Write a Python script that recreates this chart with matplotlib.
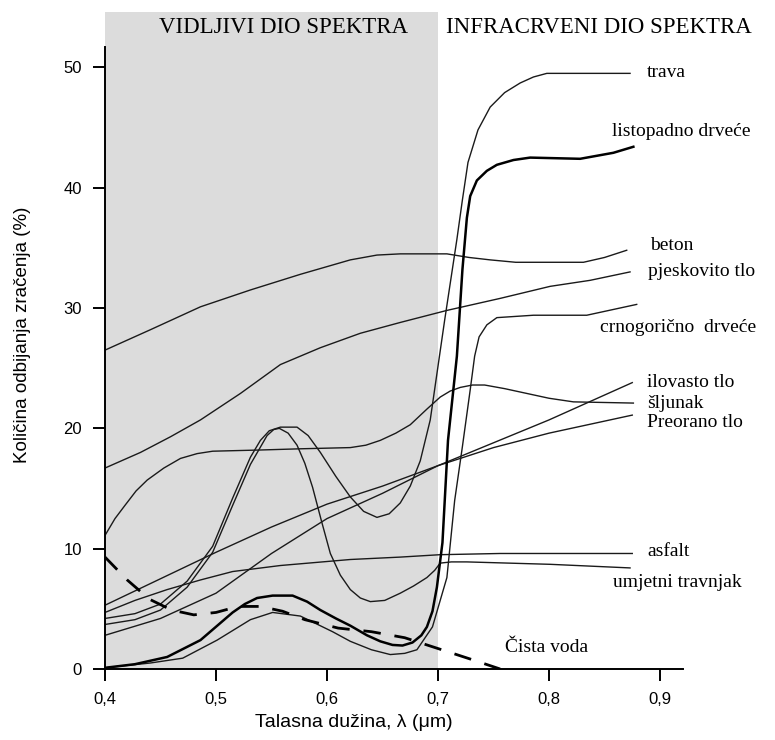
import matplotlib
matplotlib.use("Agg")
import matplotlib.pyplot as plt

# ============ PODACI (očitano sa slike) ============
# valna duljina u um, odbijanje u %
beton_x = [0.400, 0.441, 0.486, 0.531, 0.576, 0.621, 0.645, 0.666, 0.690, 0.708, 0.728, 0.747, 0.770, 0.792, 0.831, 0.850, 0.870]
beton_y = [26.5, 28.2, 30.1, 31.5, 32.8, 34.0, 34.4, 34.5, 34.5, 34.5, 34.2, 34.0, 33.8, 33.8, 33.8, 34.2, 34.8]

pijesak_x = [0.400, 0.432, 0.459, 0.486, 0.522, 0.558, 0.594, 0.630, 0.666, 0.708, 0.756, 0.801, 0.837, 0.873]
pijesak_y = [16.7, 18.0, 19.3, 20.7, 22.9, 25.3, 26.7, 27.9, 28.8, 29.8, 30.8, 31.8, 32.3, 33.0]

sljunak_x = [0.400, 0.409, 0.418, 0.428, 0.438, 0.453, 0.468, 0.483, 0.497, 0.540, 0.576, 0.621, 0.635, 0.648,
             0.662, 0.675, 0.690, 0.702, 0.711, 0.720, 0.731, 0.742, 0.760, 0.780, 0.800, 0.822, 0.876]
sljunak_y = [11.1, 12.5, 13.6, 14.8, 15.7, 16.7, 17.5, 17.9, 18.1, 18.2, 18.3, 18.4, 18.6, 19.0,
             19.6, 20.3, 21.6, 22.6, 23.1, 23.4, 23.6, 23.6, 23.3, 22.9, 22.5, 22.2, 22.1]

trava_x = [0.400, 0.427, 0.450, 0.474, 0.497, 0.515, 0.531, 0.540, 0.548, 0.558, 0.573, 0.583, 0.594, 0.608,
           0.621, 0.633, 0.645, 0.656, 0.666, 0.675, 0.684, 0.693, 0.706, 0.717, 0.722, 0.727, 0.736,
           0.747, 0.760, 0.774, 0.786, 0.798, 0.873]
trava_y = [4.2, 4.6, 5.4, 7.3, 10.2, 14.2, 17.6, 19.0, 19.8, 20.1, 20.1, 19.4, 18.0, 16.0,
           14.3, 13.1, 12.6, 12.9, 13.8, 15.2, 17.3, 20.7, 29.0, 35.7, 39.0, 42.1, 44.8,
           46.7, 47.9, 48.7, 49.2, 49.5, 49.5]

umjetni_x = [0.400, 0.427, 0.450, 0.474, 0.497, 0.515, 0.531, 0.546, 0.552, 0.557, 0.565, 0.573, 0.580, 0.587,
             0.595, 0.603, 0.612, 0.621, 0.630, 0.639, 0.652, 0.666, 0.678, 0.690, 0.697, 0.702, 0.712,
             0.726, 0.801, 0.873]
umjetni_y = [3.7, 4.1, 4.9, 6.8, 9.7, 13.6, 17.0, 19.4, 19.9, 20.0, 19.6, 18.6, 17.1, 15.1,
             12.3, 9.6, 7.8, 6.6, 5.9, 5.6, 5.7, 6.3, 6.9, 7.6, 8.2, 8.8, 8.9,
             8.9, 8.7, 8.4]

listopadno_x = [0.400, 0.427, 0.456, 0.486, 0.515, 0.526, 0.537, 0.551, 0.569, 0.582, 0.594, 0.608, 0.621,
                0.636, 0.648, 0.659, 0.668, 0.677, 0.685, 0.690, 0.695, 0.699, 0.704, 0.709, 0.717,
                0.722, 0.726, 0.729, 0.735, 0.744, 0.753, 0.768, 0.783, 0.828, 0.858, 0.876]
listopadno_y = [0.1, 0.4, 1.0, 2.4, 4.7, 5.4, 5.9, 6.1, 6.1, 5.6, 4.9, 4.2, 3.6,
                2.8, 2.3, 2.0, 1.95, 2.2, 2.8, 3.5, 4.8, 6.8, 10.5, 19.0, 26.0,
                33.2, 37.5, 39.3, 40.6, 41.4, 41.9, 42.3, 42.5, 42.4, 42.9, 43.4]

crnogoricno_x = [0.400, 0.441, 0.470, 0.501, 0.531, 0.551, 0.576, 0.605, 0.621, 0.640, 0.657, 0.670, 0.681,
                 0.695, 0.708, 0.715, 0.722, 0.729, 0.733, 0.737, 0.744, 0.753, 0.786, 0.834, 0.879]
crnogoricno_y = [0.1, 0.5, 0.9, 2.4, 4.1, 4.7, 4.4, 3.1, 2.3, 1.6, 1.2, 1.3, 1.6,
                 3.5, 7.6, 14.0, 18.5, 23.2, 26.0, 27.6, 28.6, 29.2, 29.4, 29.4, 30.3]

asfalt_x = [0.400, 0.427, 0.456, 0.486, 0.515, 0.558, 0.621, 0.666, 0.702, 0.756, 0.875]
asfalt_y = [4.7, 5.7, 6.6, 7.4, 8.1, 8.6, 9.1, 9.3, 9.5, 9.6, 9.6]

ilovasto_x = [0.40, 0.45, 0.50, 0.55, 0.60, 0.65, 0.70, 0.75, 0.80, 0.875]
ilovasto_y = [5.3, 7.5, 9.7, 11.8, 13.7, 15.2, 16.9, 18.8, 20.7, 23.8]

preorano_x = [0.40, 0.45, 0.50, 0.55, 0.60, 0.65, 0.70, 0.75, 0.80, 0.875]
preorano_y = [2.8, 4.2, 6.3, 9.6, 12.5, 14.6, 16.9, 18.4, 19.6, 21.1]

voda_x = [0.40, 0.42, 0.44, 0.46, 0.48, 0.50, 0.52, 0.54, 0.56, 0.58, 0.61, 0.64, 0.67, 0.70, 0.73, 0.756]
voda_y = [9.3, 7.4, 5.8, 4.9, 4.5, 4.7, 5.2, 5.2, 4.8, 4.1, 3.4, 3.1, 2.6, 1.7, 0.8, 0.0]

x_ticks = [0.4, 0.5, 0.6, 0.7, 0.8, 0.9]
x_tick_labels = ["0,4", "0,5", "0,6", "0,7", "0,8", "0,9"]
y_ticks = [0, 10, 20, 30, 40, 50]

# natpisi krivulja: (tekst, x, y)
labels = [
    ("trava", 0.888, 49.6),
    ("listopadno drveće", 0.857, 44.7),
    ("beton", 0.891, 35.2),
    ("pjeskovito tlo", 0.889, 33.0),
    ("crnogorično  drveće", 0.846, 28.4),
    ("ilovasto tlo", 0.888, 23.8),
    ("šljunak", 0.888, 22.1),
    ("Preorano tlo", 0.888, 20.5),
    ("asfalt", 0.889, 9.8),
    ("umjetni travnjak", 0.858, 7.2),
    ("Čista voda", 0.760, 1.75),
]

# ============ CRTANJE ============
fig = plt.figure(figsize=(7.75, 7.4), dpi=100)
ax = fig.add_axes([105 / 775, 1 - 669 / 740, 578 / 775, 657 / 740])
ax.set_xlim(0.4, 0.9207)
ax.set_ylim(0, 54.6)

ax.axvspan(0.4, 0.7, color="#dcdcdc", zorder=0, lw=0)

thin = dict(color="#1a1a1a", lw=1.0)
for xs, ys in [(beton_x, beton_y), (pijesak_x, pijesak_y), (sljunak_x, sljunak_y),
               (trava_x, trava_y), (umjetni_x, umjetni_y), (crnogoricno_x, crnogoricno_y),
               (asfalt_x, asfalt_y), (ilovasto_x, ilovasto_y), (preorano_x, preorano_y)]:
    ax.plot(xs, ys, **thin)
ax.plot(listopadno_x, listopadno_y, color="black", lw=1.8)
ax.plot(voda_x, voda_y, color="black", lw=2.0, dashes=(6.3, 5))

serif = "Liberation Serif"
for txt, lx, ly in labels:
    ax.text(lx, ly, txt, ha="left", va="center", fontsize=14, family=serif)

ax.text(0.561, 53.3, "VIDLJIVI DIO SPEKTRA", ha="center", va="center", fontsize=16.5, family=serif)
ax.text(0.845, 53.3, "INFRACRVENI DIO SPEKTRA", ha="center", va="center", fontsize=16.5, family=serif)

# osi
for s in ["top", "right"]:
    ax.spines[s].set_visible(False)
ax.spines["left"].set_bounds(0, 51.7)
ax.spines["left"].set_linewidth(1.4)
ax.spines["bottom"].set_linewidth(1.4)
ax.set_xticks(x_ticks)
ax.set_xticklabels(x_tick_labels)
ax.set_yticks(y_ticks)
ax.tick_params(length=8.5, width=1.4, labelsize=12, pad=8)
for t in ax.get_xticklabels() + ax.get_yticklabels():
    t.set_family("Liberation Sans")

ax.set_xlabel("Talasna dužina, λ (μm)", fontsize=14, family="Liberation Sans")
ax.xaxis.set_label_coords(0.431, -0.069)
ax.set_ylabel("Količina odbijanja zračenja (%)", fontsize=13.5, family="Liberation Sans")
ax.yaxis.set_label_coords(-0.128, 0.508)

fig.savefig("out.png", dpi=100)
